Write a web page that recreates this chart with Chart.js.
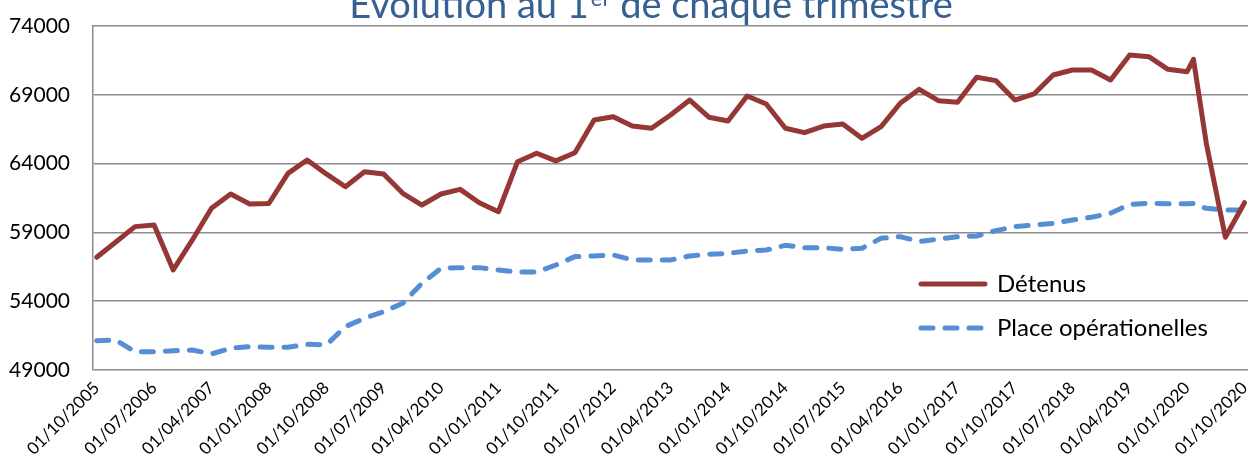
<!DOCTYPE html>
<html>
<head>
<meta charset="utf-8">
<script src="https://cdn.jsdelivr.net/npm/chart.js@4.4.1/dist/chart.umd.min.js"></script>
<style>
  body { margin: 0; background: #fff; }
  #wrap { width: 1250px; height: 457px; }
</style>
</head>
<body>
<div id="wrap"><canvas id="chart"></canvas></div>
<script>
// dates des relevés (1er de chaque trimestre, + un relevé au 01/02/2020)
var dates = [
  '01/10/2005', '01/01/2006', '01/04/2006', '01/07/2006', '01/10/2006',
  '01/01/2007', '01/04/2007', '01/07/2007', '01/10/2007',
  '01/01/2008', '01/04/2008', '01/07/2008', '01/10/2008',
  '01/01/2009', '01/04/2009', '01/07/2009', '01/10/2009',
  '01/01/2010', '01/04/2010', '01/07/2010', '01/10/2010',
  '01/01/2011', '01/04/2011', '01/07/2011', '01/10/2011',
  '01/01/2012', '01/04/2012', '01/07/2012', '01/10/2012',
  '01/01/2013', '01/04/2013', '01/07/2013', '01/10/2013',
  '01/01/2014', '01/04/2014', '01/07/2014', '01/10/2014',
  '01/01/2015', '01/04/2015', '01/07/2015', '01/10/2015',
  '01/01/2016', '01/04/2016', '01/07/2016', '01/10/2016',
  '01/01/2017', '01/04/2017', '01/07/2017', '01/10/2017',
  '01/01/2018', '01/04/2018', '01/07/2018', '01/10/2018',
  '01/01/2019', '01/04/2019', '01/07/2019', '01/10/2019',
  '01/01/2020', '01/02/2020', '01/04/2020', '01/07/2020', '01/10/2020'
];

var detenus = [
  57190, 58300, 59420, 59540, 56270,
  58450, 60750, 61790, 61070,
  61100, 63290, 64260, 63250,
  62320, 63410, 63250, 61840,
  60990, 61790, 62130, 61160,
  60500, 64140, 64750, 64200,
  64790, 67170, 67410, 66730,
  66570, 67530, 68620, 67370,
  67100, 68910, 68330, 66570,
  66250, 66730, 66880, 65840,
  66680, 68380, 69400, 68570,
  68460, 70270, 70030, 68620,
  69060, 70440, 70800, 70800,
  70080, 71890, 71770, 70850,
  70680, 71580, 65500, 58650, 61160
];

var places = [
  51130, 51180, 50330, 50330, 50400,
  50450, 50170, 50580, 50700,
  50650, 50650, 50870, 50820,
  52150, 52760, 53240, 53850,
  55300, 56390, 56440, 56440,
  56270, 56120, 56120, 56630,
  57240, 57290, 57360, 57000,
  57000, 57000, 57290, 57410,
  57480, 57650, 57720, 58060,
  57890, 57890, 57770, 57850,
  58570, 58690, 58330, 58520,
  58690, 58740, 59130, 59420,
  59540, 59660, 59900, 60100,
  60390, 61040, 61120, 61090,
  61090, 61110, 60750, 60630, 60630
];

var tickDates = [
  '01/10/2005', '01/07/2006', '01/04/2007', '01/01/2008', '01/10/2008',
  '01/07/2009', '01/04/2010', '01/01/2011', '01/10/2011', '01/07/2012',
  '01/04/2013', '01/01/2014', '01/10/2014', '01/07/2015', '01/04/2016',
  '01/01/2017', '01/10/2017', '01/07/2018', '01/04/2019', '01/01/2020',
  '01/10/2020'
];

var yTicks = [49000, 54000, 59000, 64000, 69000, 74000];

// mois écoulés depuis octobre 2005
function monthIndex(d) {
  var p = d.split('/');
  return (+p[2] - 2005) * 12 + (+p[1] - 10);
}

function toPoints(values) {
  return values.map(function (v, i) { return { x: monthIndex(dates[i]), y: v }; });
}

var GRID = '#8c8c8c';

// titre avec exposant "er" (coupé en haut comme sur l'original)
var titlePlugin = {
  id: 'titre',
  afterDraw: function (chart) {
    var ctx = chart.ctx;
    var a = 'Evolution au 1', sup = 'er', b = ' de chaque trimestre';
    ctx.save();
    ctx.fillStyle = '#376092';
    ctx.textBaseline = 'alphabetic';
    ctx.font = '38px Lato';
    var wa = ctx.measureText(a).width, wb = ctx.measureText(b).width;
    ctx.font = '22px Lato';
    var ws = ctx.measureText(sup).width;
    var x = 650 - (wa + ws + wb) / 2, y = 18;
    ctx.font = '38px Lato';
    ctx.fillText(a, x, y);
    ctx.font = '22px Lato';
    ctx.fillText(sup, x + wa + 2, y - 12);
    ctx.font = '38px Lato';
    ctx.fillText(b, x + wa + ws + 2, y);
    ctx.restore();
  }
};

// légende dans la zone du graphique, en bas à droite
var legendPlugin = {
  id: 'legende',
  afterDraw: function (chart) {
    var ctx = chart.ctx;
    ctx.save();
    ctx.font = '24px Lato';
    ctx.textBaseline = 'middle';
    chart.data.datasets.forEach(function (ds, i) {
      var y = 284 + i * 44;
      ctx.strokeStyle = ds.borderColor;
      ctx.lineWidth = ds.borderWidth;
      ctx.lineCap = 'round';
      ctx.setLineDash(ds.borderDash || []);
      ctx.beginPath();
      ctx.moveTo(921, y);
      ctx.lineTo(985, y);
      ctx.stroke();
      ctx.setLineDash([]);
      ctx.fillStyle = '#000';
      ctx.fillText(ds.label, 997, y);
    });
    ctx.restore();
  }
};

new Chart(document.getElementById('chart'), {
  type: 'line',
  data: {
    datasets: [
      {
        label: 'Détenus',
        data: toPoints(detenus),
        borderColor: '#953735',
        borderWidth: 5,
        pointRadius: 0,
        tension: 0,
        borderJoinStyle: 'round',
        borderCapStyle: 'round'
      },
      {
        label: 'Place opérationelles',
        data: toPoints(places),
        borderColor: '#558ed5',
        borderWidth: 5,
        borderDash: [12, 12],
        borderCapStyle: 'round',
        borderJoinStyle: 'round',
        pointRadius: 0,
        tension: 0
      }
    ]
  },
  options: {
    responsive: true,
    maintainAspectRatio: false,
    animation: false,
    layout: { padding: { top: 26, right: 2, left: 0, bottom: 0 } },
    plugins: {
      legend: { display: false },
      title: { display: false },
      tooltip: { enabled: false }
    },
    scales: {
      x: {
        type: 'linear',
        min: -0.58,
        max: 180.55,
        grid: { display: false, drawTicks: false },
        border: { display: false },
        afterBuildTicks: function (scale) {
          scale.ticks = tickDates.map(function (d) { return { value: monthIndex(d) }; });
        },
        afterFit: function (scale) {
          scale.height = 87;
          scale.paddingLeft = 0;
          scale.paddingRight = 0;
        },
        ticks: {
          minRotation: 45,
          maxRotation: 45,
          autoSkip: false,
          padding: 8,
          color: '#000',
          font: { family: 'Lato', size: 17 },
          callback: function (value, index) { return tickDates[index]; }
        }
      },
      y: {
        min: 49000,
        max: 74000,
        afterBuildTicks: function (scale) {
          scale.ticks = yTicks.map(function (v) { return { value: v }; });
        },
        afterFit: function (scale) {
          scale.width = 93;
          scale.paddingTop = 0;
          scale.paddingBottom = 0;
        },
        grid: { color: GRID, lineWidth: 1.5, drawTicks: false },
        border: { display: true, color: GRID, width: 1.5 },
        ticks: {
          padding: 23,
          color: '#000',
          font: { family: 'Lato', size: 21 },
          callback: function (value) { return String(value); }
        }
      }
    }
  },
  plugins: [titlePlugin, legendPlugin]
});
</script>
</body>
</html>
